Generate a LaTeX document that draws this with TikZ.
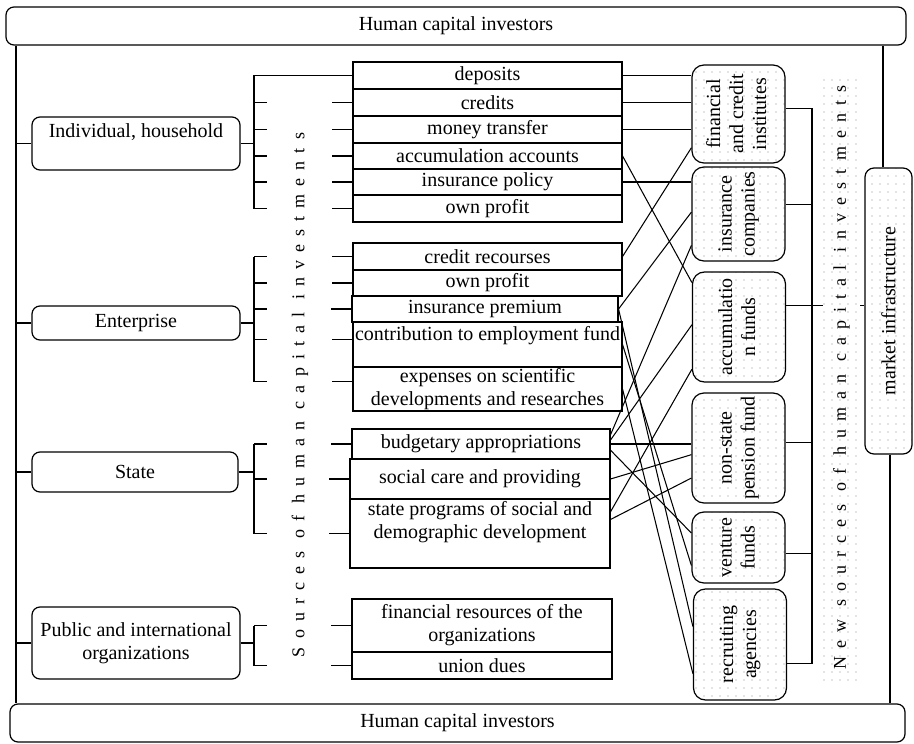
\documentclass[tikz,border=0pt]{standalone}
\usepackage{fontspec}
\usepackage{graphicx}
\setmainfont{Liberation Serif}
\newfontfamily\spacedfont[LetterSpace=45]{Liberation Serif}
\usetikzlibrary{calc,patterns.meta}
\begin{document}
\begin{tikzpicture}[x=1pt,y=-1pt,
  every node/.style={font=\fontsize{20}{23}\selectfont, inner sep=0pt},
  lbox/.style={draw, line width=1.2pt, rounded corners=8pt},
  mbox/.style={draw, line width=1.1pt, minimum width=269pt, align=center},
  rbox/.style={draw, line width=1.2pt, rounded corners=12pt, preaction={fill=white},
    pattern={Dots[distance=8pt,radius=0.55pt]}, pattern color=black!45, minimum width=93pt},
  ln/.style={line width=1.05pt},
  spaced/.style={font=\spacedfont\fontsize{18}{21}\selectfont, rotate=90}]
\useasboundingbox (0,0) rectangle (914,744);

% frame boxes
\node[lbox, minimum width=900pt, minimum height=38pt] (topb) at (456,26) {Human capital investors};
\node[lbox, minimum width=895pt, minimum height=38pt] (botb) at (457.5,723) {Human capital investors};

% left boxes
\node[lbox, minimum width=208pt, minimum height=53pt] (ind) at (136,143.5) {};
\node (indT) at (136,132) {Individual, household};
\node[lbox, minimum width=208pt, minimum height=34pt] (ent) at (136,323) {Enterprise};
\node[lbox, minimum width=206pt, minimum height=40pt] (sta) at (135,472) {State};
\node[lbox, minimum width=208pt, minimum height=72pt, align=center] (pub) at (136,643) {Public and international\\organizations};

% middle boxes
\node[mbox, minimum height=27pt] (dep) at (487.5,75.5) {deposits};
\node[mbox, minimum height=27pt] (cred) at (487.5,102.5) {credits};
\node[mbox, minimum height=27pt] (mon) at (487.5,129.5) {money transfer};
\node[mbox, minimum height=26pt] (acc) at (487.5,156) {accumulation accounts};
\node[mbox, minimum height=26pt] (insp) at (487.5,182) {insurance policy};
\node[mbox, minimum height=27pt] (own1) at (487.5,208.5) {own profit};

\node[mbox, minimum height=27pt] (crr) at (487.5,256.5) {credit recourses};
\node[mbox, minimum height=26pt] (own2) at (487.5,283) {own profit};
\node[mbox, minimum width=266pt, minimum height=26pt] (insprem) at (485,309) {insurance premium};
\node[mbox, minimum height=45pt] (contrib) at (487.5,344.5) {};
\node (contribT) at (487.5,336) {contribution to employment fund};
\node[mbox, minimum height=44pt] (expen) at (487.5,389) {expenses on scientific\\developments and researches};

\node[mbox, minimum width=258pt, minimum height=30pt] (budg) at (481,444) {budgetary appropriations};
\node[mbox, minimum width=260pt, minimum height=40pt] (socc) at (480,479) {social care and providing};
\node[mbox, minimum width=260pt, minimum height=69pt] (stprog) at (480,533.5) {state programs of social and\\demographic development\\[4pt]};

\node[mbox, minimum width=260pt, minimum height=53pt] (finr) at (482,625.5) {financial resources of the\\organizations};
\node[mbox, minimum width=260pt, minimum height=27pt] (union) at (482,665.5) {union dues};

% right boxes
\node[rbox, minimum height=98pt] (fin) at (738.5,114) {\rotatebox{90}{\begin{tabular}{@{}c@{}}financial\\and credit\\institutes\end{tabular}}};
\node[rbox, minimum height=94pt] (insco) at (738.5,214) {\rotatebox{90}{\begin{tabular}{@{}c@{}}insurance\\companies\end{tabular}}};
\node[rbox, minimum height=110pt] (accf) at (739,327) {\rotatebox{90}{\begin{tabular}{@{}c@{}}accumulatio\\n funds\end{tabular}}};
\node[rbox, minimum height=110pt] (nspf) at (738.5,448) {\rotatebox{90}{\begin{tabular}{@{}c@{}}non-state\\pension fund\end{tabular}}};
\node[rbox, minimum height=71pt] (vent) at (738.5,547.5) {\rotatebox{90}{\begin{tabular}{@{}c@{}}venture\\funds\end{tabular}}};
\node[rbox, minimum height=111pt] (recr) at (740,644.5) {\rotatebox{90}{\begin{tabular}{@{}c@{}}recruiting\\agencies\end{tabular}}};

\node[rbox, minimum width=47pt, minimum height=286pt, rounded corners=9pt] (mkt) at (888.5,311) {\rotatebox{90}{market infrastructure}};

% vertical sources label
\node[spaced] (srcT) at (300,395) {Sources of human capital investments};

% helper coordinates
\coordinate (L) at (16,0);
\coordinate (B) at (254,0);
\coordinate (S) at (812,0);
\coordinate (R1) at (883,0);
\coordinate (R2) at (890,0);

% outer frame lines
\draw[ln] (topb.south -| L) -- (botb.north -| L);
\draw[ln] (topb.south -| R1) -- (mkt.north -| R1);
\draw[ln] (mkt.south -| R2) -- (botb.north -| R2);

% left line to boxes
\draw[ln] (ind.west -| L) -- (ind.west);
\draw[ln] (ent.west -| L) -- (ent.west);
\draw[ln] (sta.west -| L) -- (sta.west);
\draw[ln] (pub.west -| L) -- (pub.west);

% bracket: individual
\draw[ln] (ind.east) -- (ind.east -| B);
\draw[ln] (dep.west) -| (B |- own1.west);
\foreach \n in {cred,mon,acc,insp,own1}{
  \draw[ln] (B |- \n.west) -- ++(13,0);
  \draw[ln] (\n.west) -- ++(-20,0);
}
% bracket: enterprise
\coordinate (contribW) at ($(contrib.north west)!0.4!(contrib.south west)$);
\coordinate (expenW) at ($(expen.north west)!0.34!(expen.south west)$);
\draw[ln] (ent.east) -- (ent.east -| B);
\draw[ln] (B |- crr.west) -- (B |- expenW);
\foreach \n in {crr.west,own2.west,insprem.west,contribW,expenW}{
  \draw[ln] (B |- \n) -- ++(13,0);
  \draw[ln] (\n) -- ++(-20,0);
}
% bracket: state
\draw[ln] (sta.east) -- (sta.east -| B);
\draw[ln] (B |- budg.west) -- (B |- stprog.west);
\foreach \n in {budg,socc,stprog}{
  \draw[ln] (B |- \n.west) -- ++(13,0);
  \draw[ln] (\n.west) -- ++(-20,0);
}
% bracket: public
\draw[ln] (pub.east) -- (pub.east -| B);
\draw[ln] (B |- finr.west) -- (B |- union.west);
\foreach \n in {finr,union}{
  \draw[ln] (B |- \n.west) -- ++(13,0);
  \draw[ln] (\n.west) -- ++(-20,0);
}

% connectors middle -> right
\draw[ln] (dep.east) -- (dep.east -| fin.west);
\draw[ln] (cred.east) -- (cred.east -| fin.west);
\draw[ln] (mon.east) -- (mon.east -| fin.west);
\draw[ln] (insp.east) -- (insp.east -| insco.west);
\draw[ln] (budg.east) -- (budg.east -| nspf.west);
\draw[ln] (acc.east) -- ($(accf.north west)!0.1!(accf.south west)$);
\draw[ln] (crr.east) -- ($(fin.north west)!0.84!(fin.south west)$);
\draw[ln] (insprem.east) -- ($(insco.north west)!0.48!(insco.south west)$);
\draw[ln] (insprem.east) -- ($(recr.north west)!0.34!(recr.south west)$);
\draw[ln] ($(budg.north east)!0.2!(budg.south east)$) -- ($(insco.north west)!0.83!(insco.south west)$);
\draw[ln] ($(budg.north east)!0.37!(budg.south east)$) -- ($(accf.north west)!0.48!(accf.south west)$);
\draw[ln] ($(budg.north east)!0.7!(budg.south east)$) -- ($(vent.north west)!0.3!(vent.south west)$);
\draw[ln] (socc.east) -- ($(nspf.north west)!0.56!(nspf.south west)$);
\draw[ln] ($(stprog.north east)!0.3!(stprog.south east)$) -- ($(nspf.north west)!0.77!(nspf.south west)$);
\draw[ln] ($(stprog.north east)!0.19!(stprog.south east)$) -- ($(accf.north west)!0.88!(accf.south west)$);
\draw[ln] (contrib.east) -- ($(vent.north west)!0.75!(vent.south west)$);
\draw[ln] (expen.east) -- ($(recr.north west)!0.76!(recr.south west)$);

% spine on the right
\coordinate (fE) at ($(fin.north east)!0.44!(fin.south east)$);
\coordinate (iE) at ($(insco.north east)!0.4!(insco.south east)$);
\coordinate (aE) at ($(accf.north east)!0.31!(accf.south east)$);
\coordinate (nE) at ($(nspf.north east)!0.45!(nspf.south east)$);
\coordinate (vE) at ($(vent.north east)!0.58!(vent.south east)$);
\coordinate (rE) at ($(recr.north east)!0.67!(recr.south east)$);
\foreach \p in {fE,iE,aE,nE,vE,rE}{
  \draw[ln] (\p) -- (\p -| S);
}
\draw[ln] (fE -| S) -- (rE -| S);
\draw[ln] (aE -| S) -- (aE -| mkt.west);

% new sources label with dotted background
\node[spaced, preaction={fill=white}, pattern={Dots[distance=8pt,radius=0.55pt]}, pattern color=black!45,
  minimum width=605pt, minimum height=37pt] (newsrc) at (841.5,377.5) {New sources of human capital investments};
\end{tikzpicture}
\end{document}
